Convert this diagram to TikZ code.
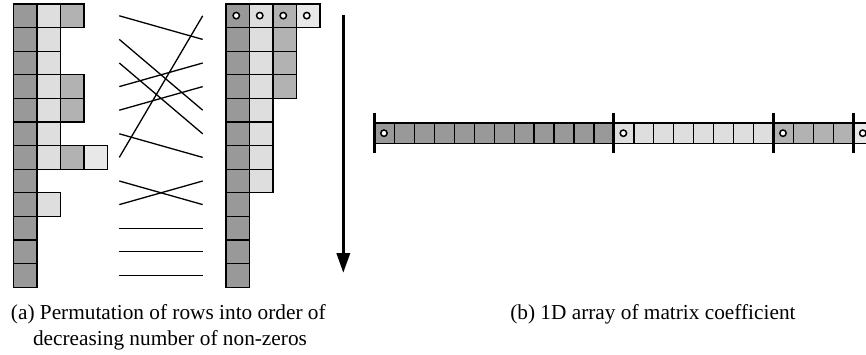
\documentclass[tikz,border=0pt]{standalone}
\usepackage{fontspec}
\setmainfont{Liberation Serif}
\usetikzlibrary{arrows.meta}
\definecolor{cdark}{gray}{0.60}
\definecolor{clight}{gray}{0.87}
\definecolor{cmed}{gray}{0.70}
\definecolor{cpale}{gray}{0.91}
\begin{document}
\begin{tikzpicture}[x=1pt,y=-1pt,
  cellbox/.style={draw=black,line width=1.3pt},
  perm/.style={draw=black,line width=1.3pt},
  mark0/.style={draw=black,fill=white,line width=1.5pt},
  bar/.style={draw=black,line width=3pt},
  caption/.style={inner sep=0pt,font=\fontsize{21.3pt}{25.6pt}\selectfont}]
\useasboundingbox (0,0) rectangle (866,354);
\clip (0,0) rectangle (866,354);
\def\cw{23.6}
% left matrix
\foreach \r/\cols in {1/{cdark,clight,cmed},2/{cdark,clight},3/{cdark,clight},4/{cdark,clight,cmed},5/{cdark,clight,cmed},6/{cdark,clight},7/{cdark,clight,cmed,cpale},8/{cdark},9/{cdark,clight},10/{cdark},11/{cdark},12/{cdark}}{
  \foreach \c [count=\j] in \cols {
    \filldraw[cellbox,fill=\c] ({13.3+(\j-1)*\cw},{4+(\r-1)*\cw}) rectangle ++(\cw,\cw);
  }
}
% right matrix
\foreach \r/\cols in {1/{cdark,clight,cmed,cpale},2/{cdark,clight,cmed},3/{cdark,clight,cmed},4/{cdark,clight,cmed},5/{cdark,clight},6/{cdark,clight},7/{cdark,clight},8/{cdark,clight},9/{cdark},10/{cdark},11/{cdark},12/{cdark}}{
  \foreach \c [count=\j] in \cols {
    \filldraw[cellbox,fill=\c] ({226+(\j-1)*23.5},{4+(\r-1)*\cw}) rectangle ++(23.5,\cw);
  }
}
\foreach \j in {1,...,4}{
  \draw[mark0] ({226+(\j-0.5)*23.5-1.5},15.6) circle (3.2pt);
}
% permutation connectors
\foreach \i in {1,...,12}{
  \coordinate (L\i) at (119.3,{4+(\i-0.5)*\cw});
  \coordinate (R\i) at (202.7,{4+(\i-0.5)*\cw});
}
\foreach \a/\b in {1/2,2/5,3/6,4/3,5/4,6/7,7/1,8/9,9/8,10/10,11/11,12/12}{
  \draw[perm] (L\a) -- (R\b);
}
% arrow
\coordinate (atop) at (343.3,15);
\coordinate (abot) at (343.3,273);
\draw[line width=3.5pt,-{Triangle[width=13pt,length=20pt]}] (atop) -- (abot);
% 1D array
\def\sw{19.95}
\foreach \i in {0,...,25}{
  \ifnum\i<12 \def\cc{cdark}\else\ifnum\i<20 \def\cc{clight}\else\ifnum\i<24 \def\cc{cmed}\else\def\cc{cpale}\fi\fi\fi
  \filldraw[cellbox,fill=\cc] ({374.5+\i*\sw},123) rectangle ++(\sw,20.3);
}
\foreach \i in {0,12,20,24}{
  \draw[mark0] ({374.5+(\i+0.5)*\sw-0.5},133.2) circle (3.2pt);
  \draw[bar] ({374.5+\i*\sw},112.7) -- ({374.5+\i*\sw},153.3);
}
% captions
\node[caption,anchor=base] (capa1) at (168.3,319) {(a) Permutation of rows into order of};
\node[caption,anchor=base] (capa2) at (170,345) {decreasing number of non-zeros};
\node[caption,anchor=base] (capb) at (652.9,319) {(b) 1D array of matrix coefficient};
\end{tikzpicture}
\end{document}
